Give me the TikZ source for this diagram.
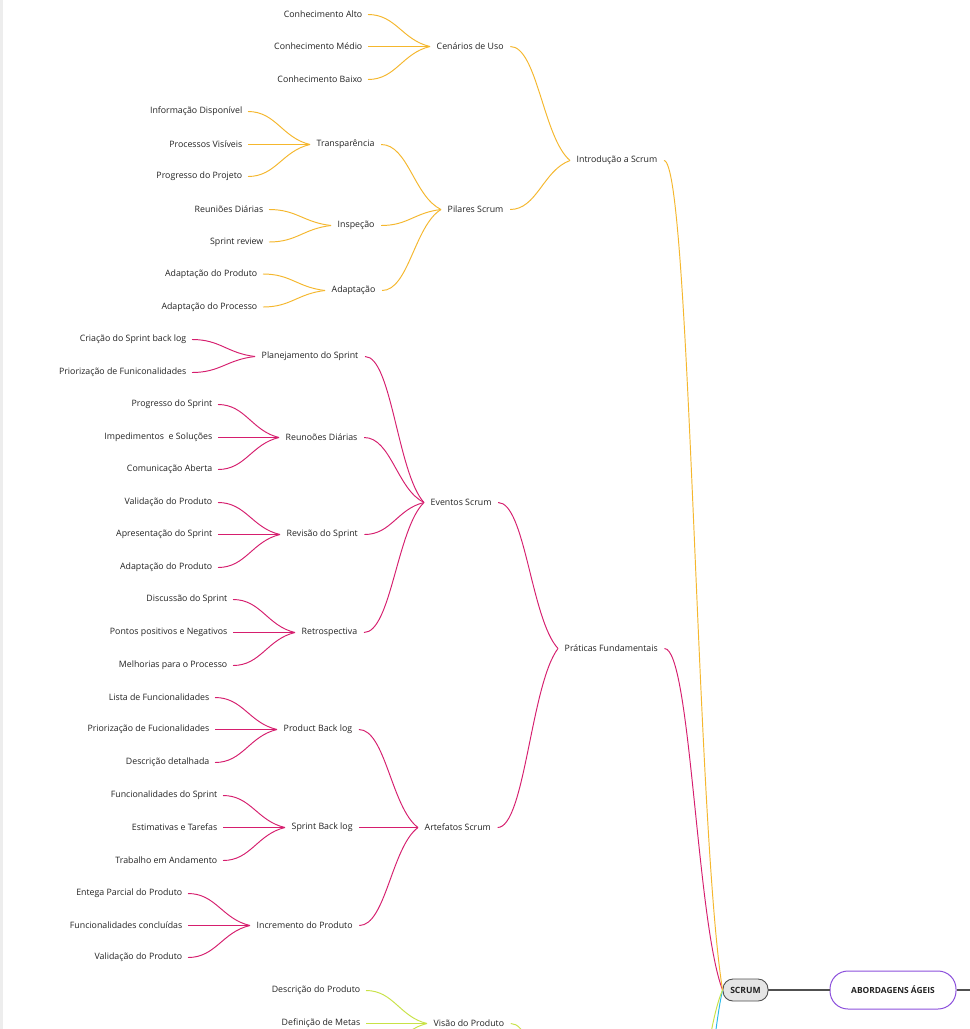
\documentclass[tikz,border=0pt]{standalone}
\usepackage{fontspec}
\setmainfont{Open Sans}
\usetikzlibrary{calc}
\definecolor{yel}{RGB}{245,183,45}
\definecolor{mag}{RGB}{214,30,110}
\definecolor{grn}{RGB}{200,226,70}
\definecolor{cya}{RGB}{40,185,235}
\definecolor{txt}{RGB}{35,35,35}
\definecolor{purp}{RGB}{140,80,220}
\definecolor{trunk}{RGB}{80,80,80}
\newcommand\branch[3]{\draw[#1] let \p1=(#2), \p2=(#3), \n1={\x2-\x1}, \n2={\y2-\y1} in (\p1) .. controls ({\x1+0.45*\n1},\y1) and ({\x2-0.45*\n1},{\y2-0.2*\n2}) .. (\p2);}
\begin{document}
\begin{tikzpicture}[x=1pt,y=-1pt,
  lf/.style={inner xsep=5.5pt,inner ysep=2pt,anchor=east,text=txt,font=\fontsize{8.8}{10}\selectfont},
  mid/.style={inner xsep=6.5pt,inner ysep=2pt,anchor=west,text=txt,font=\fontsize{8.8}{10}\selectfont},
  Y/.style={draw=yel,line width=0.95pt},
  M/.style={draw=mag,line width=0.95pt},
  G/.style={draw=grn,line width=0.95pt},
  C/.style={draw=cya,line width=0.95pt}]
\useasboundingbox (0,0) rectangle (970,1029);
\fill[white] (0,0) rectangle (970,1029);
\fill[black!7] (0,0) rectangle (2.5,1029);
\clip (0,0) rectangle (970,1029);
% ---------------- yellow
\node[lf] (l1) at (368,14.5) {Conhecimento Alto};
\node[lf] (l2) at (368,46.5) {Conhecimento Médio};
\node[lf] (l3) at (368,79.5) {Conhecimento Baixo};
\node[mid] (cen) at (430,46.5) {Cenários de Uso};
\node[mid] (intro) at (570,160.5) {Introdução a Scrum};
\node[lf] (t1) at (248,111.5) {Informação Disponível};
\node[lf] (t2) at (248,144.5) {Processos Visíveis};
\node[lf] (t3) at (248,176.5) {Progresso do Projeto};
\node[mid] (transp) at (310,144.5) {Transparência};
\node[lf] (i1) at (269,209.5) {Reuniões Diárias};
\node[lf] (i2) at (269,242) {Sprint review};
\node[mid] (insp) at (331,225.5) {Inspeção};
\node[lf] (a1) at (263,274) {Adaptação do Produto};
\node[lf] (a2) at (263,307) {Adaptação do Processo};
\node[mid] (adapt) at (325,290.5) {Adaptação};
\node[mid] (pil) at (441,209.5) {Pilares Scrum};
% ---------------- magenta
\node[lf] (p1) at (192,339.5) {Criação do Sprint back log};
\node[lf] (p2) at (192,372.5) {Priorização de Funiconalidades};
\node[mid] (plan) at (255,356.5) {Planejamento do Sprint};
\node[lf] (r1) at (218,404.5) {Progresso do Sprint};
\node[lf] (r2) at (218,437.5) {Impedimentos~ e Soluções};
\node[lf] (r3) at (218,469.5) {Comunicação Aberta};
\node[mid] (reun) at (279,437.5) {Reunoões Diárias};
\node[lf] (v1) at (218,502.5) {Validação do Produto};
\node[lf] (v2) at (218,534.5) {Apresentação do Sprint};
\node[lf] (v3) at (218,567.5) {Adaptação do Produto};
\node[mid] (rev) at (280,534.5) {Revisão do Sprint};
\node[lf] (d1) at (233,599.5) {Discussão do Sprint};
\node[lf] (d2) at (233,632.5) {Pontos positivos e Negativos};
\node[lf] (d3) at (233,665.5) {Melhorias para o Processo};
\node[mid] (retro) at (295,632.5) {Retrospectiva};
\node[mid] (ev) at (424,502.5) {Eventos Scrum};
\node[mid] (prat) at (558,648.5) {Práticas Fundamentais};
\node[lf] (b1) at (215,697.5) {Lista de Funcionalidades};
\node[lf] (b2) at (215,729.5) {Priorização de Fucionalidades};
\node[lf] (b3) at (215,762.5) {Descrição detalhada};
\node[mid] (pb) at (277,729.5) {Product Back log};
\node[lf] (s1) at (223,795.5) {Funcionalidades do Sprint};
\node[lf] (s2) at (223,827.5) {Estimativas e Tarefas};
\node[lf] (s3) at (223,860.5) {Trabalho em Andamento};
\node[mid] (sb) at (285,827.5) {Sprint Back log};
\node[lf] (n1) at (188,893.5) {Entega Parcial do Produto};
\node[lf] (n2) at (188,925.5) {Funcionalidades concluídas};
\node[lf] (n3) at (188,957.5) {Validação do Produto};
\node[mid] (inc) at (250,925.5) {Incremento do Produto};
\node[mid] (art) at (418,827.5) {Artefatos Scrum};
% ---------------- green
\node[lf] (g1) at (366,990.5) {Descrição do Produto};
\node[lf] (g2) at (366,1023.5) {Definição de Metas};
\coordinate (g3) at (366,1056);
\node[mid] (vis) at (427,1023.5) {Visão do Produto};
\coordinate (visnext) at (571,1160);
\coordinate (gnext) at (663,1300);
\coordinate (cnext) at (663,1600);
% ---------------- centre
\node[draw=trunk,fill=black!10,line width=0.9pt,rounded corners=10pt,minimum width=45pt,minimum height=22pt,inner sep=0pt,text=txt,font=\fontsize{8.6}{10}\selectfont\bfseries] (scrum) at (745.5,990) {SCRUM};
\node[draw=purp,fill=white,line width=1pt,rounded corners=18pt,minimum width=126pt,minimum height=38pt,inner sep=0pt,text=txt,font=\fontsize{8.4}{10}\selectfont\bfseries] (abord) at (893,990) {ABORDAGENS ÁGEIS};
\coordinate (right) at (975,990);
\draw[trunk,line width=1.2pt] (scrum.east) -- (abord.west);
\draw[trunk,line width=1.2pt] (abord.east) -- (right);
% ---------------- connectors
\foreach \a in {l1,l2,l3} {\branch{Y}{\a.east}{cen.west}}
\foreach \a in {t1,t2,t3} {\branch{Y}{\a.east}{transp.west}}
\foreach \a in {i1,i2} {\branch{Y}{\a.east}{insp.west}}
\foreach \a in {a1,a2} {\branch{Y}{\a.east}{adapt.west}}
\foreach \a in {transp,insp,adapt} {\branch{Y}{\a.east}{pil.west}}
\foreach \a in {cen,pil} {\branch{Y}{\a.east}{intro.west}}
\foreach \a in {p1,p2} {\branch{M}{\a.east}{plan.west}}
\foreach \a in {r1,r2,r3} {\branch{M}{\a.east}{reun.west}}
\foreach \a in {v1,v2,v3} {\branch{M}{\a.east}{rev.west}}
\foreach \a in {d1,d2,d3} {\branch{M}{\a.east}{retro.west}}
\foreach \a in {plan,reun,rev,retro} {\branch{M}{\a.east}{ev.west}}
\foreach \a in {b1,b2,b3} {\branch{M}{\a.east}{pb.west}}
\foreach \a in {s1,s2,s3} {\branch{M}{\a.east}{sb.west}}
\foreach \a in {n1,n2,n3} {\branch{M}{\a.east}{inc.west}}
\foreach \a in {pb,sb,inc} {\branch{M}{\a.east}{art.west}}
\foreach \a in {ev,art} {\branch{M}{\a.east}{prat.west}}
\branch{M}{prat.east}{scrum.west}
\branch{Y}{intro.east}{scrum.west}
\foreach \a in {g1,g2} {\branch{G}{\a.east}{vis.west}}
\branch{G}{g3}{vis.west}
\draw[G] let \p1=(vis.east), \p2=(visnext), \n1={\x2-\x1}, \n2={\y2-\y1} in (\p1) .. controls ({\x1+0.45*\n1},\y1) and ({\x2-0.45*\n1},{\y2-0.2*\n2}) .. (\p2);
\branch{C}{cnext}{scrum.west}
\branch{G}{gnext}{scrum.west}
\end{tikzpicture}
\end{document}
